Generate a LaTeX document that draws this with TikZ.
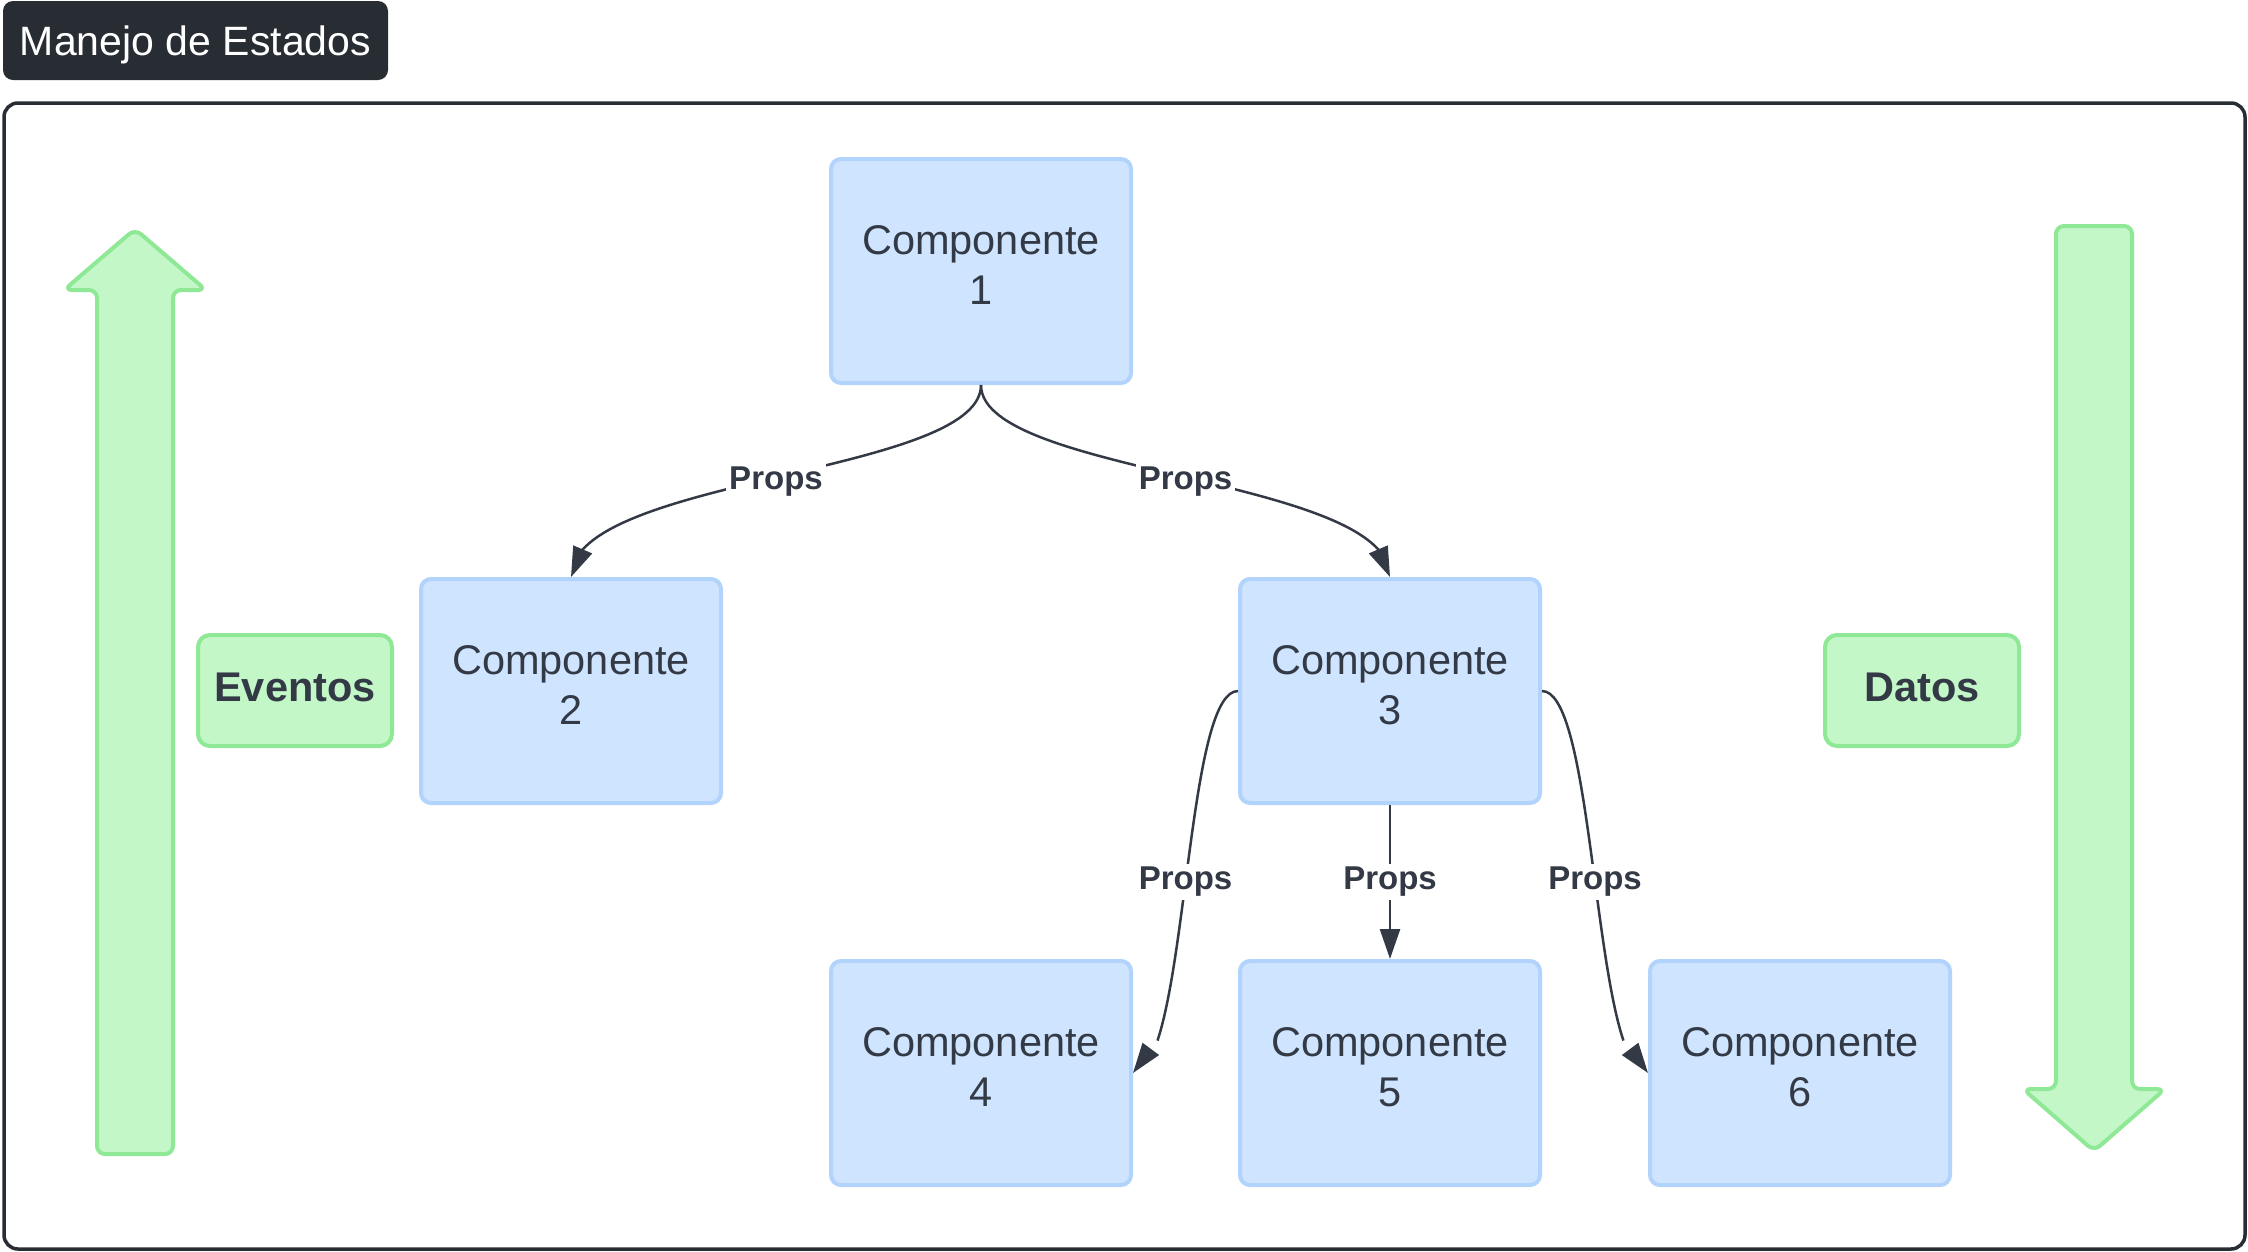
\documentclass[tikz,border=0pt]{standalone}
\usepackage{fontspec}
\setmainfont{Liberation Sans}
\usetikzlibrary{arrows.meta,bending}
\definecolor{ink}{HTML}{333A45}
\definecolor{darkbg}{HTML}{282C33}
\definecolor{bfill}{HTML}{CFE4FF}
\definecolor{bline}{HTML}{B2D3FB}
\definecolor{gfill}{HTML}{C3F7C8}
\definecolor{gline}{HTML}{8EE896}
\begin{document}
\begin{tikzpicture}[x=1pt,y=-1pt,
 comp/.style={draw=bline, fill=bfill, line width=4pt, rounded corners=10pt, minimum width=300pt, minimum height=224pt, align=center, text=ink, font=\fontsize{41.5}{50}\selectfont, inner sep=0pt, text depth=11.5pt},
 tag/.style={draw=gline, fill=gfill, line width=4pt, rounded corners=12pt, minimum width=194pt, minimum height=111pt, text=ink, font=\bfseries\fontsize{41.5}{50}\selectfont, inner sep=0pt, text depth=6pt},
 conn/.style={draw=ink, line width=2.5pt, -{Triangle[length=30pt,width=20pt]}},
 lbl/.style={fill=white, text=ink, font=\bfseries\fontsize{33}{40}\selectfont, inner sep=3pt},
 bigarrow/.style={draw=gline, fill=gfill, line width=4pt, rounded corners=8pt, line join=round}]
\useasboundingbox (0,0) rectangle (2248,1251);
\draw[darkbg, line width=3.5pt, rounded corners=14pt] (4,103) rectangle (2245,1249);
\node[fill=darkbg, rounded corners=10pt, minimum width=385pt, minimum height=79pt, text=white, font=\fontsize{41}{49}\selectfont, inner sep=0pt, text height=35pt, text depth=5pt] (title) at (195.5,40.5) {Manejo de Estados};
% big arrows
\draw[bigarrow] (97,1154) -- (97,290) -- (64,290) -- (135,229) -- (206,290) -- (173,290) -- (173,1154) -- cycle;
\draw[bigarrow] (2056,226) -- (2056,1089) -- (2023,1089) -- (2094,1151) -- (2165,1089) -- (2132,1089) -- (2132,226) -- cycle;
% tags
\node[tag] (eventos) at (295,690.5) {Eventos};
\node[tag] (datos) at (1922,690.5) {Datos};
% components
\node[comp] (c1) at (981,271) {Componente\\1};
\node[comp] (c2) at (571,691) {Componente\\2};
\node[comp] (c3) at (1390,691) {Componente\\3};
\node[comp] (c4) at (981,1073) {Componente\\4};
\node[comp] (c5) at (1390,1073) {Componente\\5};
\node[comp] (c6) at (1800,1073) {Componente\\6};
% connectors
\draw[conn] (c1.south) .. controls +(0,90) and +(0,-100) .. node[lbl, yshift=-4pt] {Props} (c2.north);
\draw[conn] (c1.south) .. controls +(0,90) and +(0,-100) .. node[lbl, yshift=-4pt] {Props} (c3.north);
\draw[conn] (c3.west) .. controls +(-55,0) and +(55,0) .. node[lbl] {Props} (c4.east);
\draw[conn] (c3.east) .. controls +(55,0) and +(-55,0) .. node[lbl] {Props} (c6.west);
\draw[conn] (c3.south) -- node[lbl] {Props} (c5.north);
\end{tikzpicture}
\end{document}
